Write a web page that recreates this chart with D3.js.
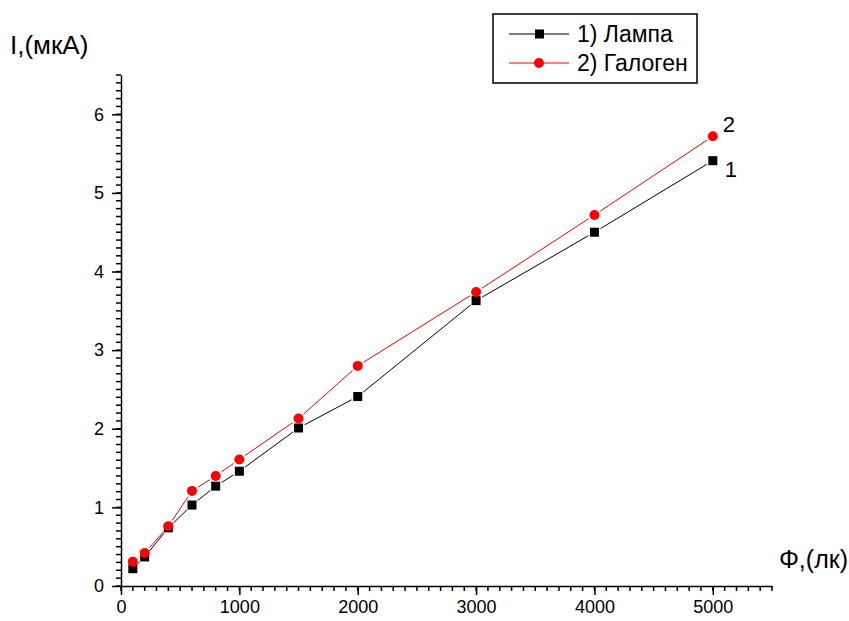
<!DOCTYPE html>
<html>
<head>
<meta charset="utf-8">
<script src="https://cdn.jsdelivr.net/npm/d3@7"></script>
<style>
  body { margin: 0; background: #fff; }
  text { font-family: "Liberation Sans", Arial, sans-serif; }
</style>
</head>
<body>
<div id="chart"></div>
<script>
// data
var flux = [100, 200, 400, 600, 800, 1000, 1500, 2000, 3000, 4000, 5000];
var lamp = [0.22, 0.37, 0.74, 1.03, 1.27, 1.46, 2.01, 2.41, 3.63, 4.50, 5.41];
var halogen = [0.31, 0.42, 0.76, 1.21, 1.40, 1.61, 2.13, 2.80, 3.74, 4.72, 5.72];
var xTicks = [0, 1000, 2000, 3000, 4000, 5000];
var yTicks = [0, 1, 2, 3, 4, 5, 6];
var seriesNames = ['1) Лампа', '2) Галоген'];

var width = 849, height = 621;

var svg = d3.select('#chart')
    .append('svg')
    .attr('width', width)
    .attr('height', height);

var x = d3.scaleLinear().domain([0, 5500]).range([121, 772]);
var y = d3.scaleLinear().domain([0, 6.5]).range([586, 75]);

// minor ticks
var xMinor = d3.range(0, 56).map(function(d){ return d * 100; });
var yMinor = d3.range(0, 66).map(function(d){ return d / 10; });

var gxMinor = svg.append('g');
gxMinor.selectAll('line')
    .data(xMinor)
    .enter()
    .append('line')
    .attr('x1', function(d){ return x(d); }).attr('x2', function(d){ return x(d); })
    .attr('y1', y(0)).attr('y2', y(0) + 5)
    .attr('stroke', '#000').attr('stroke-width', 1.5);

var gyMinor = svg.append('g');
gyMinor.selectAll('line')
    .data(yMinor)
    .enter()
    .append('line')
    .attr('y1', function(d){ return y(d); }).attr('y2', function(d){ return y(d); })
    .attr('x1', x(0)).attr('x2', x(0) - 5)
    .attr('stroke', '#000').attr('stroke-width', 1.5);

// major ticks with labels
svg.append('g')
    .attr('transform', 'translate(0,' + y(0) + ')')
    .call(d3.axisBottom(x).tickValues(xTicks).tickFormat(d3.format('d')).tickSize(9).tickPadding(5).tickSizeOuter(0))
    .call(function(g){
        g.select('.domain').attr('stroke-width', 1.5);
        g.selectAll('line').attr('stroke-width', 1.5);
        g.selectAll('text').attr('font-size', 18).attr('fill', '#000').style('font-family', '"Liberation Sans", Arial, sans-serif');
    });

svg.append('g')
    .attr('transform', 'translate(' + x(0) + ',0)')
    .call(d3.axisLeft(y).tickValues(yTicks).tickFormat(d3.format('d')).tickSize(9).tickPadding(8).tickSizeOuter(0))
    .call(function(g){
        g.select('.domain').attr('stroke-width', 1.5);
        g.selectAll('line').attr('stroke-width', 1.5);
        g.selectAll('text').attr('font-size', 18).attr('fill', '#000').style('font-family', '"Liberation Sans", Arial, sans-serif');
    });

// axis titles
svg.append('text').attr('x', 10).attr('y', 54).attr('font-size', 26).text('I,(мкА)');
svg.append('text').attr('x', 848).attr('y', 568).attr('text-anchor', 'end').attr('font-size', 25).text('Φ,(лк)');

// lines with small gaps near the markers
function drawSeries(values, color, gap){
    var pts = flux.map(function(f, i){ return [x(f), y(values[i])]; });
    var g = svg.append('g');
    for (var i = 0; i < pts.length - 1; i++) {
        var a = pts[i], b = pts[i + 1];
        var dx = b[0] - a[0], dy = b[1] - a[1];
        var len = Math.sqrt(dx * dx + dy * dy);
        if (len <= 2 * gap) continue;
        g.append('line')
            .attr('x1', a[0] + dx / len * gap).attr('y1', a[1] + dy / len * gap)
            .attr('x2', b[0] - dx / len * gap).attr('y2', b[1] - dy / len * gap)
            .attr('stroke', color).attr('stroke-width', 1);
    }
}
drawSeries(lamp, '#000', 7);
drawSeries(halogen, '#ff0000', 7);

svg.selectAll('.sq')
    .data(flux)
    .enter()
    .append('rect')
    .attr('class', 'sq')
    .attr('x', function(d){ return x(d) - 4.5; })
    .attr('y', function(d, i){ return y(lamp[i]) - 4.5; })
    .attr('width', 9).attr('height', 9)
    .attr('fill', '#000');

svg.selectAll('.dot')
    .data(flux)
    .enter()
    .append('circle')
    .attr('class', 'dot')
    .attr('cx', function(d){ return x(d); })
    .attr('cy', function(d, i){ return y(halogen[i]); })
    .attr('r', 5)
    .attr('fill', '#ff0000');

// curve numbers at the last points
var last = flux.length - 1;
svg.append('text').attr('x', x(flux[last]) + 10).attr('y', y(halogen[last]) - 4).attr('font-size', 22).text('2');
svg.append('text').attr('x', x(flux[last]) + 12).attr('y', y(lamp[last]) + 16).attr('font-size', 22).text('1');

// legend
var legend = svg.append('g');
legend.append('rect')
    .attr('x', 493).attr('y', 14).attr('width', 204).attr('height', 69)
    .attr('fill', '#fff').attr('stroke', '#000').attr('stroke-width', 1.5);
var legColors = ['#000', '#ff0000'];
seriesNames.forEach(function(name, i){
    var ly = 34 + i * 29;
    legend.append('line').attr('x1', 509).attr('x2', 569).attr('y1', ly).attr('y2', ly)
        .attr('stroke', legColors[i]).attr('stroke-width', 1);
    if (i === 0) {
        legend.append('rect').attr('x', 535).attr('y', ly - 4.5).attr('width', 9).attr('height', 9).attr('fill', '#000');
    } else {
        legend.append('circle').attr('cx', 539).attr('cy', ly).attr('r', 5).attr('fill', '#ff0000');
    }
    legend.append('text').attr('x', 577).attr('y', ly + 8).attr('font-size', 23).text(name);
});
</script>
</body>
</html>
